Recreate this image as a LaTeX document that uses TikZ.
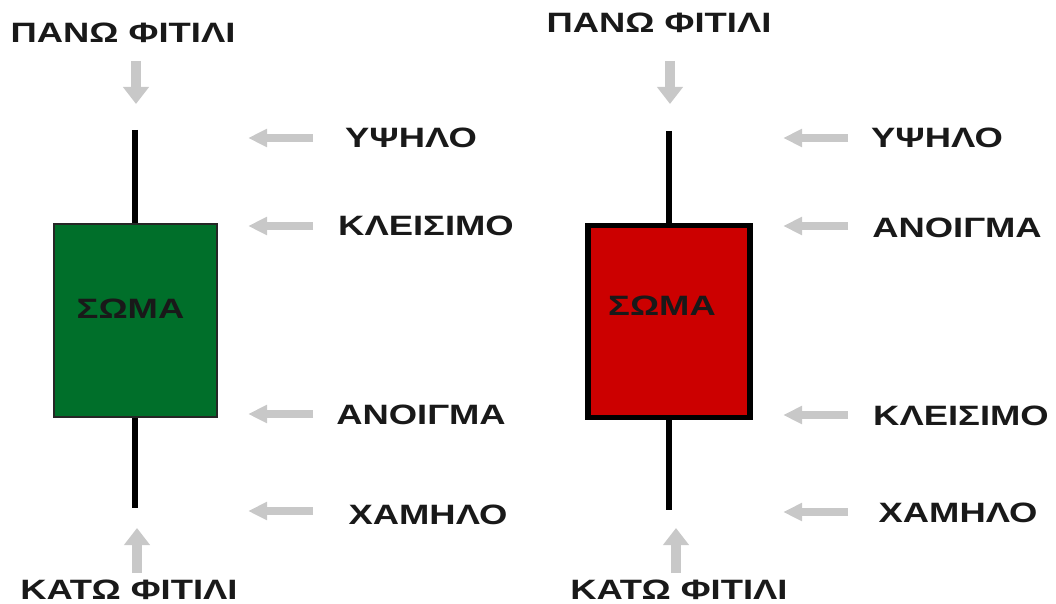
\documentclass[tikz,border=0pt]{standalone}
\usepackage{fontspec}
\setmainfont[FakeStretch=1.3]{Liberation Sans}
\usetikzlibrary{arrows.meta}
\definecolor{pointer}{HTML}{C8C8C8}
\definecolor{bullbody}{HTML}{006F2A}
\definecolor{bearbody}{HTML}{CC0000}
\begin{document}
\begin{tikzpicture}[x=1pt,y=-1pt,
  lbl/.style={font=\fontsize{28}{30}\selectfont\bfseries, text=black!90, inner sep=0pt, anchor=base},
  hptr/.style={draw=pointer, line width=8pt, -{Triangle[length=19pt,width=17pt]}},
  vptr/.style={draw=pointer, line width=10pt, -{Triangle[length=17pt,width=25pt]}},
  wick/.style={line width=5.5pt},
]
\useasboundingbox (0,0) rectangle (1056,604);

% ---------- bullish candle ----------
\coordinate (gtop) at (135,130);
\coordinate (gbot) at (135,508);
\draw[wick] (gtop) -- (gbot);
\node[draw=black!85, line width=2pt, fill=bullbody, minimum width=163pt, minimum height=193pt, inner sep=0pt] (gbody) at (135.5,320.5) {};
\node[lbl] (gbodylbl) at (130.5,318) {ΣΩΜΑ};

\node[lbl] (gupper) at (123,43) {ΠΑΝΩ ΦΙΤΙΛΙ};
\node[lbl] (glower) at (129,599) {ΚΑΤΩ ΦΙΤΙΛΙ};
\coordinate (gua) at (136,61);   \coordinate (gub) at (136,104);
\coordinate (gla) at (137,573);  \coordinate (glb) at (137,528);
\draw[vptr] (gua) -- (gub);
\draw[vptr] (gla) -- (glb);

\node[lbl] (ghigh)  at (411,148) {ΥΨΗΛΟ};
\node[lbl] (gclose) at (426,235) {ΚΛΕΙΣΙΜΟ};
\node[lbl] (gopen)  at (421,424) {ΑΝΟΙΓΜΑ};
\node[lbl] (glow)   at (428,524) {ΧΑΜΗΛΟ};
\foreach \n/\y in {a/138, b/226, c/414, d/511} {
  \coordinate (gp\n) at (313,\y);
  \coordinate (gq\n) at (248,\y);
  \draw[hptr] (gp\n) -- (gq\n);
}

% ---------- bearish candle ----------
\coordinate (rtop) at (669,131);
\coordinate (rbot) at (669,510);
\draw[wick] (rtop) -- (rbot);
\node[draw=black, line width=5.5pt, fill=bearbody, minimum width=162pt, minimum height=192pt, inner sep=0pt] (rbody) at (669,321.5) {};
\node[lbl] (rbodylbl) at (662,315) {ΣΩΜΑ};

\node[lbl] (rupper) at (659,33) {ΠΑΝΩ ΦΙΤΙΛΙ};
\node[lbl] (rlower) at (679,599) {ΚΑΤΩ ΦΙΤΙΛΙ};
\coordinate (rua) at (670,61);   \coordinate (rub) at (670,104);
\coordinate (rla) at (676,573);  \coordinate (rlb) at (676,528);
\draw[vptr] (rua) -- (rub);
\draw[vptr] (rla) -- (rlb);

\node[lbl] (rhigh)  at (937,148) {ΥΨΗΛΟ};
\node[lbl] (ropen)  at (957,237) {ΑΝΟΙΓΜΑ};
\node[lbl] (rclose) at (961,425) {ΚΛΕΙΣΙΜΟ};
\node[lbl] (rlow)   at (958,522) {ΧΑΜΗΛΟ};
\foreach \n/\y in {a/138, b/226, c/415, d/512} {
  \coordinate (rp\n) at (848,\y);
  \coordinate (rq\n) at (783,\y);
  \draw[hptr] (rp\n) -- (rq\n);
}
\end{tikzpicture}
\end{document}
